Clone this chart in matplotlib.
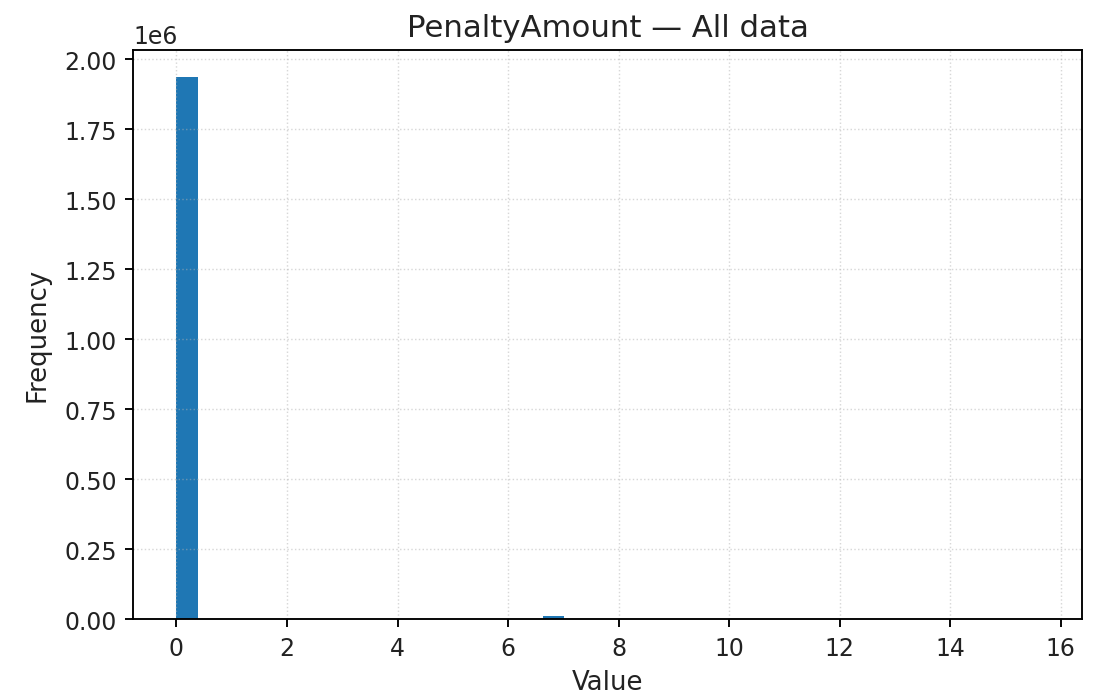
import matplotlib
matplotlib.use("Agg")
import matplotlib.pyplot as plt
import numpy as np

# --- PenaltyAmount histogram (pre-binned counts) ---
bin_edges = np.linspace(0, 15.6, 41)
counts = [0] * 40
counts[0] = 1938000   # almost everything sits at 0
counts[17] = 9000     # small bump near 7

centers = (bin_edges[:-1] + bin_edges[1:]) / 2

fig = plt.figure(figsize=(1094 / 170, 699 / 170), dpi=170)
ax = fig.add_axes([0.1219, 0.113, 0.8669, 0.8145])

ax.hist(centers, bins=bin_edges, weights=counts, color="#1f77b4")
ax.set_title("PenaltyAmount — All data", fontsize=13, color="#222222")
ax.set_xlabel("Value", fontsize=11, color="#222222")
ax.set_ylabel("Frequency", fontsize=11, color="#222222", labelpad=6)
ax.set_xticks(np.arange(0, 17, 2))
ax.tick_params(labelcolor="#222222")
ax.grid(True, linestyle=":", linewidth=0.6, alpha=0.5)

fig.savefig("out.png", dpi=170)
plt.close(fig)
